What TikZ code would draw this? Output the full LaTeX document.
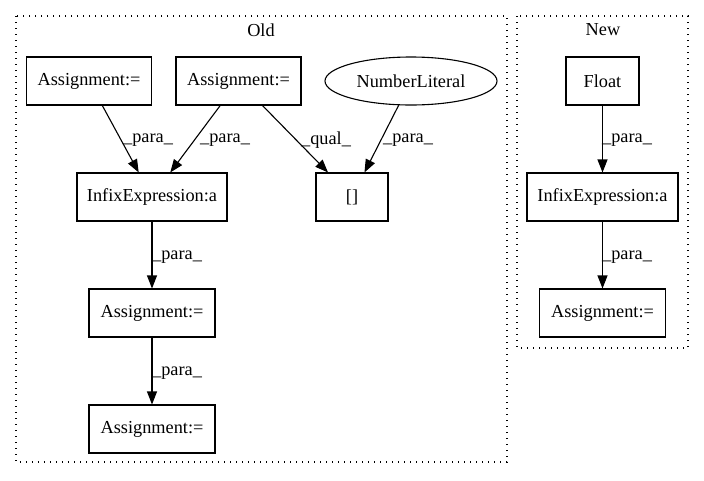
\documentclass[tikz,border=0pt]{standalone}
\usepackage{fontspec}
\setmainfont{Liberation Serif}
\usetikzlibrary{arrows.meta,shapes.geometric}
\begin{document}
\begin{tikzpicture}[x=1pt,y=-1pt,
  txt/.style={font=\fontsize{18.3}{22}\selectfont},
  box/.style={txt,draw,line width=1.1pt,minimum height=48pt,inner sep=0pt},
  oval/.style={txt,draw,ellipse,line width=1.1pt,minimum height=48pt,inner sep=0pt},
  edge/.style={line width=1.1pt,-{Triangle[length=13pt,width=10pt]}},
  lbl/.style={txt,inner sep=0pt},
  cluster/.style={line width=1.3pt,dash pattern=on 1.4pt off 4.6pt},
]
\useasboundingbox (0,0) rectangle (704,480);
\fill[white] (0,0) rectangle (704,480);
% clusters
\draw[cluster] (16,16) rectangle (507,462);
\draw[cluster] (517,16) rectangle (688,348);
\node[lbl] (oldlbl) at (261,30) {Old};
\node[lbl] (newlbl) at (603,30) {New};
% Old nodes
\node[box,minimum width=125pt] (a1) at (89,81) {Assignment:=};
\node[box,minimum width=125pt] (a2) at (238.5,81) {Assignment:=};
\node[oval,minimum width=172pt] (nl) at (411,81) {NumberLiteral};
\node[box,minimum width=150pt] (ix1) at (152,197) {InfixExpression:a};
\node[box,minimum width=72pt] (br) at (352,197) {[]};
\node[box,minimum width=126pt] (a3) at (152,313) {Assignment:=};
\node[box,minimum width=126pt] (a4) at (152,429) {Assignment:=};
% New nodes
\node[box,minimum width=73pt] (fl) at (602.5,81) {Float};
\node[box,minimum width=151pt] (ix2) at (602.5,197) {InfixExpression:a};
\node[box,minimum width=126pt] (a5) at (602.5,313) {Assignment:=};
% edges
\draw[edge] (a1) -- (ix1);
\draw[edge] (a2) -- (ix1);
\draw[edge] (a2) -- (br);
\draw[edge] (nl) -- (br);
\draw[edge] (ix1) -- (a3);
\draw[edge] (a3) -- (a4);
\draw[edge] (fl) -- (ix2);
\draw[edge] (ix2) -- (a5);
% edge labels
\node[lbl] (l1) at (148,140) {\_para\_};
\node[lbl] (l2) at (225,140) {\_para\_};
\node[lbl] (l3) at (326,140) {\_qual\_};
\node[lbl] (l4) at (408,140) {\_para\_};
\node[lbl] (l5) at (177,257) {\_para\_};
\node[lbl] (l6) at (177,373) {\_para\_};
\node[lbl] (l7) at (627,140) {\_para\_};
\node[lbl] (l8) at (627,257) {\_para\_};
\end{tikzpicture}
\end{document}
